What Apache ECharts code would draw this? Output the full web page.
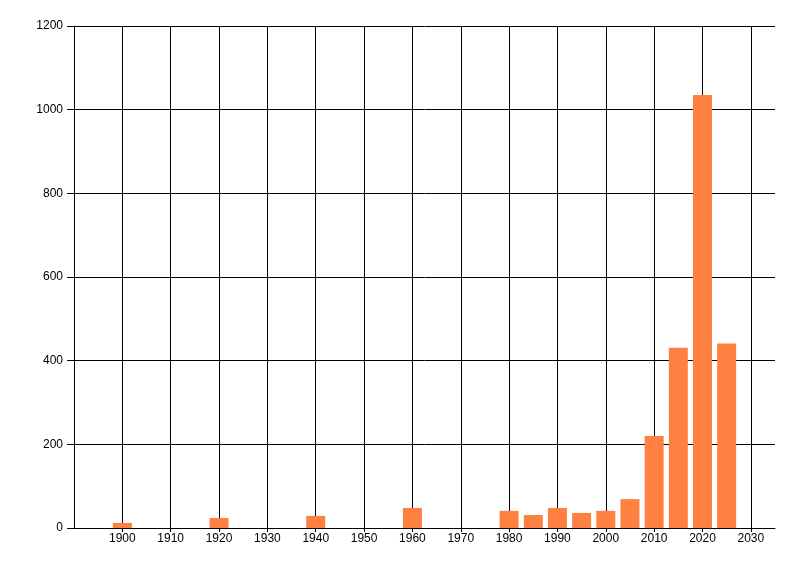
<!DOCTYPE html>
<html>
<head>
<meta charset="utf-8">
<script src="https://cdn.jsdelivr.net/npm/echarts@6/dist/echarts.min.js"></script>
<style>
    html, body { margin: 0; padding: 0; background: #fff; }
    #container { width: 800px; height: 576px; }
</style>
</head>
<body>
<div id="container"></div>
<script>
var years = [1900, 1920, 1940, 1960, 1980, 1985, 1990, 1995, 2000, 2005, 2010, 2015, 2020, 2025];
var counts = [12, 24, 29, 48, 41, 31, 48, 36, 41, 69, 220, 431, 1035, 441];

var myChart = echarts.init(document.getElementById('container'));

var seriesData = years.map(function (y, i) {
    return [y, counts[i]];
});

var option = {
    animation: false,
    backgroundColor: '#fff',
    grid: { left: 74, right: 25, top: 26, bottom: 48 },
    xAxis: {
        type: 'value',
        min: 1890,
        max: 2035,
        interval: 10,
        axisLine: { show: true, onZero: false, lineStyle: { color: '#000', width: 1 } },
        axisTick: { show: true, length: 4, lineStyle: { color: '#000' } },
        axisLabel: {
            color: '#000',
            fontFamily: 'Liberation Sans',
            fontSize: 12,
            margin: 5,
            showMinLabel: false,
            showMaxLabel: false,
            formatter: function (v) {
                return (v < 1900 || v > 2030) ? '' : String(v);
            }
        },
        splitLine: { show: true, showMinLine: false, showMaxLine: false, lineStyle: { color: '#000', width: 1 } }
    },
    yAxis: {
        type: 'value',
        min: 0,
        max: 1200,
        interval: 200,
        axisLine: { show: true, lineStyle: { color: '#000', width: 1 } },
        axisTick: { show: true, length: 7, lineStyle: { color: '#000' } },
        axisLabel: {
            color: '#000',
            fontFamily: 'Liberation Sans',
            fontSize: 12,
            margin: 11,
            formatter: function (v) {
                return String(v);
            }
        },
        splitLine: { show: true, lineStyle: { color: '#000', width: 1 } }
    },
    series: [{
        type: 'bar',
        data: seriesData,
        barWidth: 19,
        itemStyle: { color: '#FF8142' }
    }]
};

myChart.setOption(option);
</script>
</body>
</html>
